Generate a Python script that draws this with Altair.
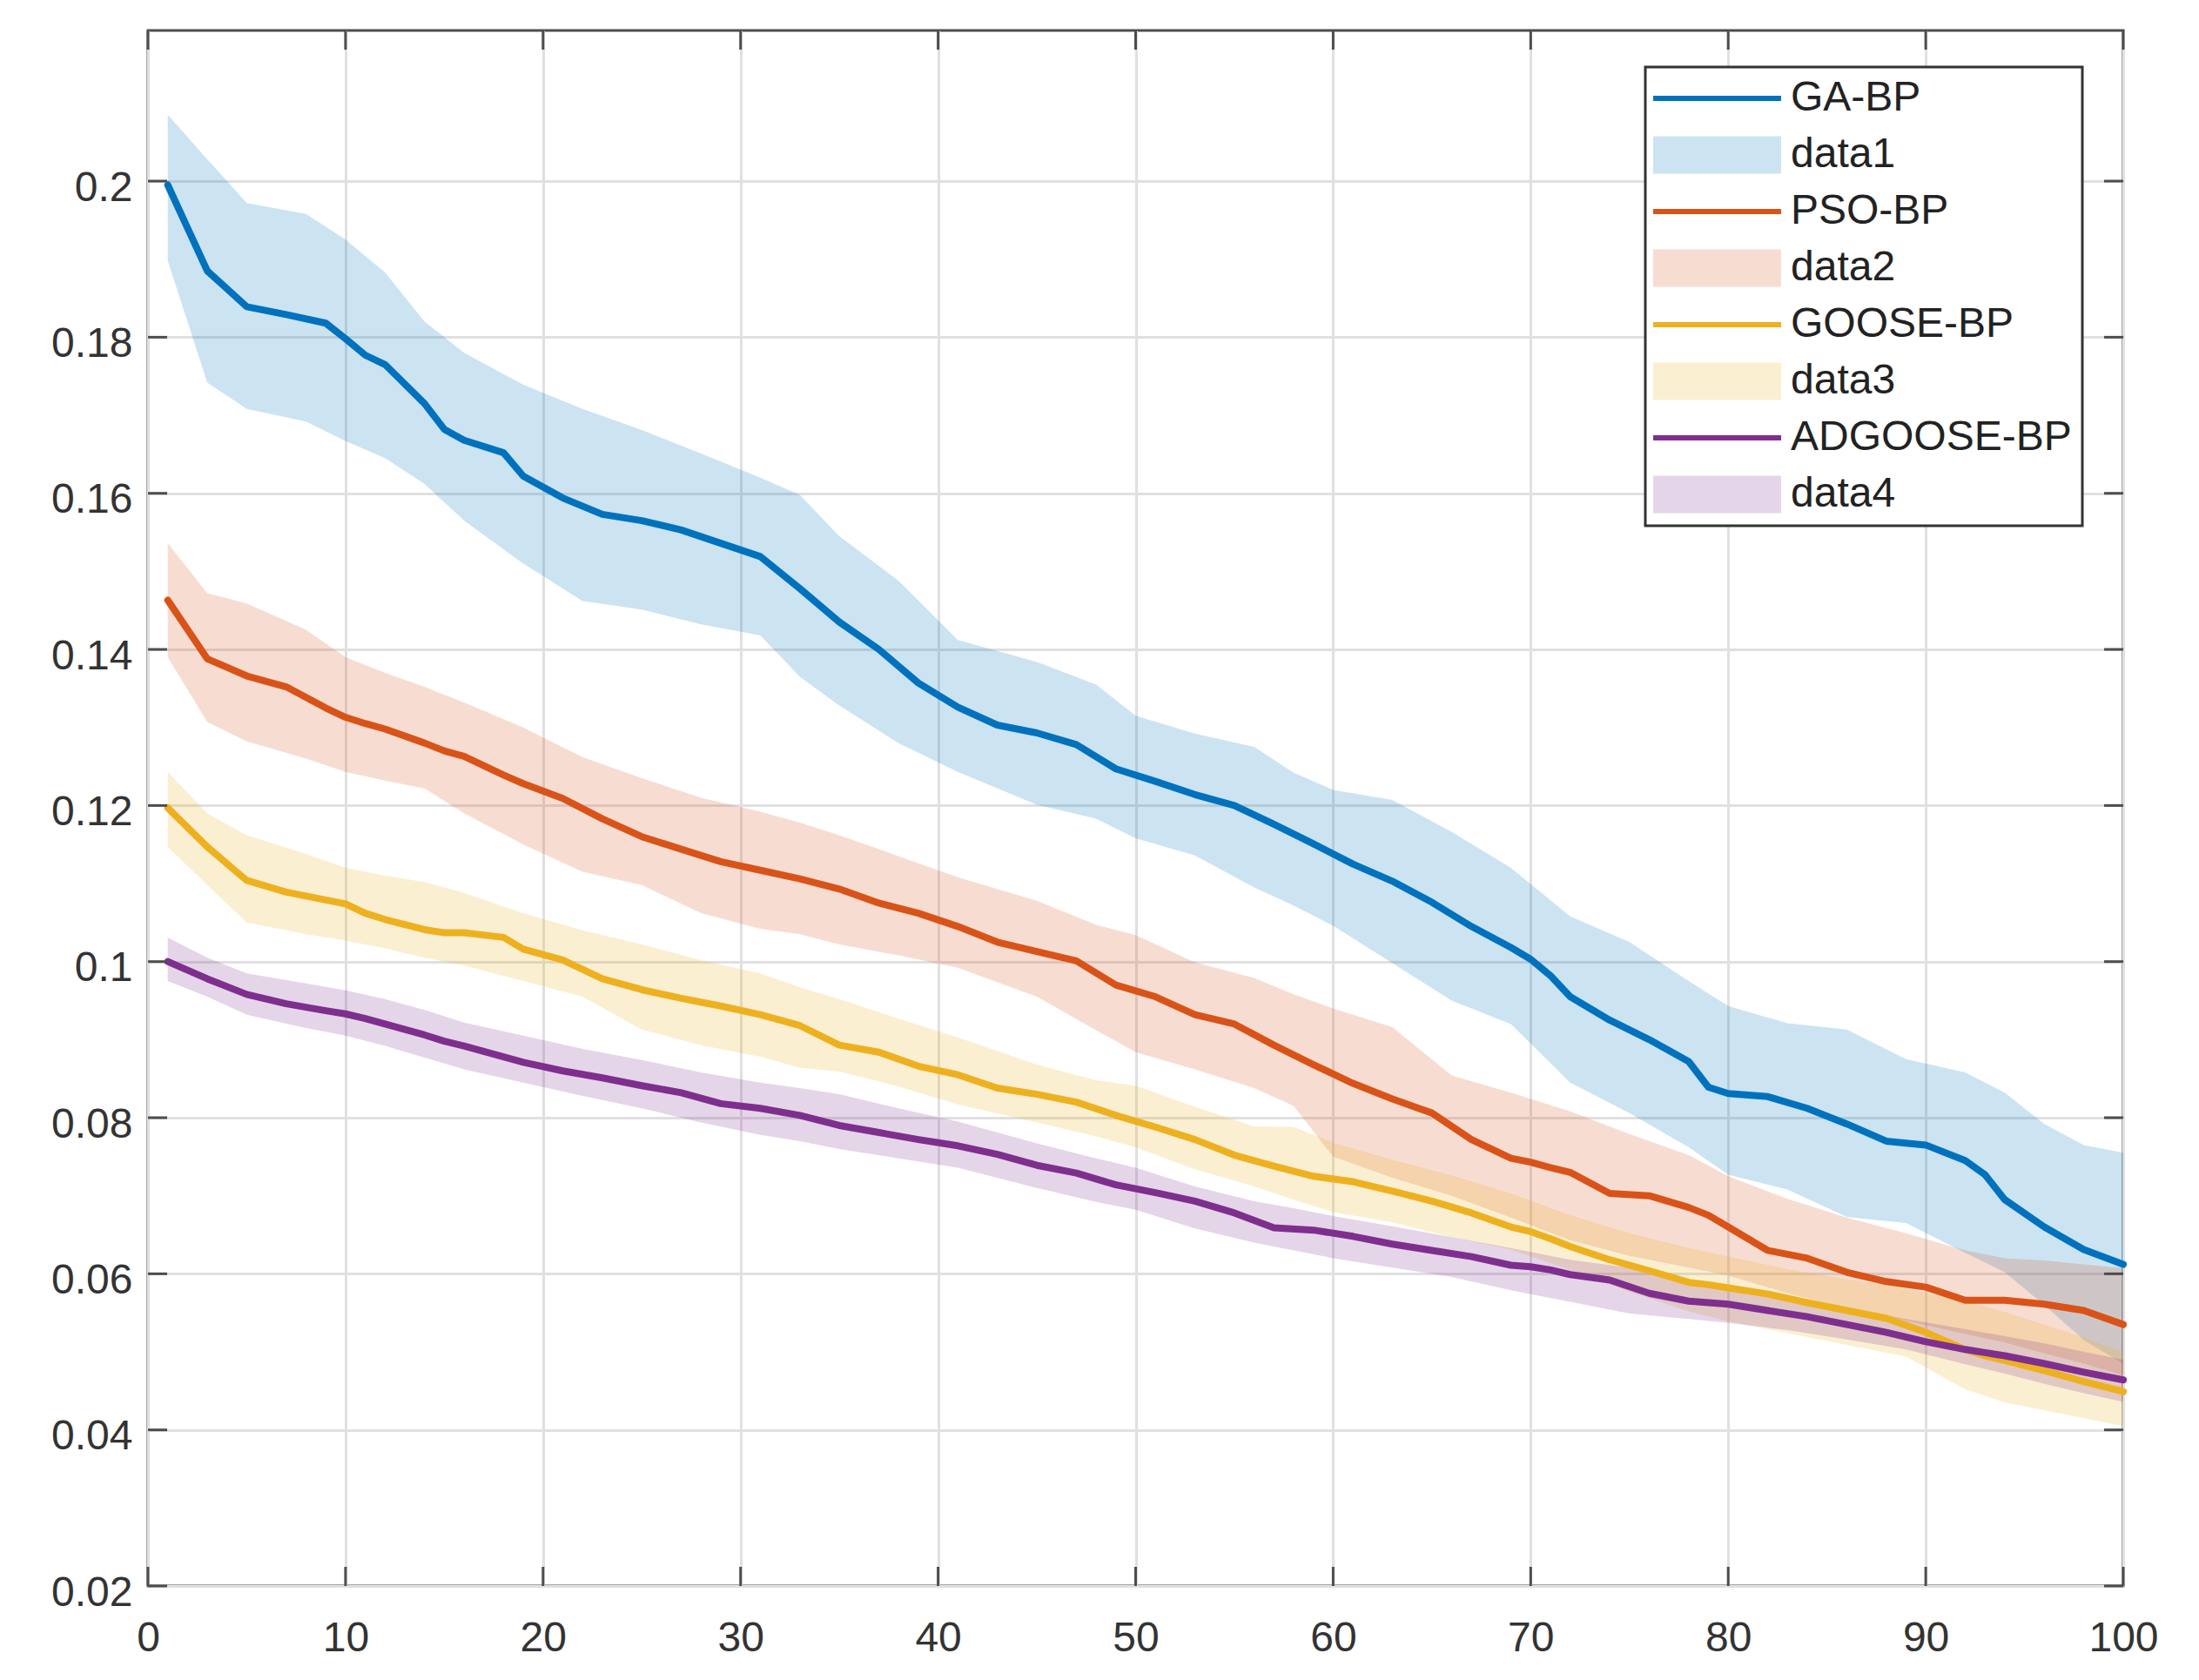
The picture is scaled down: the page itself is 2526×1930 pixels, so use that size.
import altair as alt
import pandas as pd

# ---------------- data ----------------
LX = [1, 3, 5, 7, 9, 10, 11, 12, 14, 15, 16, 18, 19, 21, 23, 25, 27, 29, 31, 33,
      35, 37, 39, 41, 43, 45, 47, 49, 51, 53, 55, 57, 59, 61, 63, 65, 67, 69, 70, 71,
      72, 74, 76, 78, 79, 80, 82, 84, 86, 88, 90, 92, 93, 94, 96, 98, 100]

GA_BP = [0.1995, 0.1885, 0.1839, 0.1829, 0.1818, 0.1798, 0.1777, 0.1765, 0.1715, 0.1682,
         0.1668, 0.1652, 0.1622, 0.1594, 0.1573, 0.1565, 0.1553, 0.1536, 0.1519, 0.1478,
         0.1435, 0.1400, 0.1357, 0.1326, 0.1303, 0.1293, 0.1278, 0.1247, 0.1231, 0.1214,
         0.1200, 0.1176, 0.1151, 0.1125, 0.1103, 0.1076, 0.1045, 0.1018, 0.1003, 0.0982,
         0.0955, 0.0925, 0.0900, 0.0872, 0.0839, 0.0831, 0.0827, 0.0812, 0.0792, 0.0770,
         0.0765, 0.0745, 0.0727, 0.0695, 0.0660, 0.0631, 0.0612]

PSO_BP = [0.1463, 0.1388, 0.1366, 0.1352, 0.1325, 0.1313, 0.1305, 0.1298, 0.1280, 0.1270,
          0.1263, 0.1239, 0.1228, 0.1209, 0.1183, 0.1160, 0.1144, 0.1128, 0.1117, 0.1106,
          0.1093, 0.1075, 0.1062, 0.1045, 0.1025, 0.1013, 0.1001, 0.0970, 0.0955, 0.0932,
          0.0920, 0.0893, 0.0868, 0.0844, 0.0824, 0.0806, 0.0772, 0.0748, 0.0743, 0.0736,
          0.0730, 0.0703, 0.0700, 0.0685, 0.0675, 0.0660, 0.0630, 0.0620, 0.0602, 0.0590,
          0.0583, 0.0566, 0.0566, 0.0566, 0.0561, 0.0553, 0.0535]

GOOSE_BP = [0.1197, 0.1147, 0.1104, 0.1089, 0.1079, 0.1074, 0.1062, 0.1054, 0.1041, 0.1037,
            0.1037, 0.1031, 0.1016, 0.1002, 0.0978, 0.0964, 0.0953, 0.0943, 0.0932, 0.0918,
            0.0893, 0.0884, 0.0866, 0.0855, 0.0838, 0.0830, 0.0820, 0.0803, 0.0788, 0.0772,
            0.0752, 0.0738, 0.0725, 0.0718, 0.0706, 0.0693, 0.0678, 0.0660, 0.0654, 0.0645,
            0.0635, 0.0618, 0.0604, 0.0589, 0.0586, 0.0582, 0.0574, 0.0563, 0.0553, 0.0543,
            0.0525, 0.0503, 0.0495, 0.0489, 0.0476, 0.0462, 0.0449]

ADGOOSE_BP = [0.1000, 0.0978, 0.0958, 0.0946, 0.0937, 0.0933, 0.0927, 0.0920, 0.0906, 0.0898,
              0.0892, 0.0878, 0.0871, 0.0860, 0.0851, 0.0841, 0.0832, 0.0818, 0.0812, 0.0803,
              0.0790, 0.0781, 0.0772, 0.0764, 0.0753, 0.0739, 0.0729, 0.0714, 0.0704, 0.0693,
              0.0678, 0.0659, 0.0656, 0.0648, 0.0638, 0.0630, 0.0622, 0.0611, 0.0609, 0.0605,
              0.0599, 0.0592, 0.0575, 0.0565, 0.0563, 0.0561, 0.0553, 0.0545, 0.0535, 0.0525,
              0.0513, 0.0503, 0.0499, 0.0495, 0.0485, 0.0474, 0.0464]

BX = [1, 3, 5, 8, 10, 12, 14, 16, 19, 22, 25, 28, 31, 33, 35, 38, 41, 45, 48, 50,
      53, 56, 58, 60, 63, 66, 69, 72, 75, 78, 80, 83, 86, 89, 92, 94, 96, 98, 100]

DATA1_HI = [0.2085, 0.2028, 0.1972, 0.1958, 0.1925, 0.1883, 0.1820, 0.1780, 0.1739, 0.1708,
            0.1681, 0.1651, 0.1620, 0.1598, 0.1545, 0.1488, 0.1412, 0.1384, 0.1355, 0.1315,
            0.1292, 0.1275, 0.1242, 0.1220, 0.1207, 0.1166, 0.1120, 0.1058, 0.1025, 0.0975,
            0.0943, 0.0921, 0.0913, 0.0875, 0.0858, 0.0832, 0.0792, 0.0765, 0.0755]
DATA1_LO = [0.1898, 0.1742, 0.1708, 0.1692, 0.1667, 0.1645, 0.1612, 0.1565, 0.1510, 0.1462,
            0.1451, 0.1432, 0.1418, 0.1365, 0.1328, 0.1280, 0.1243, 0.1201, 0.1183, 0.1158,
            0.1136, 0.1095, 0.1072, 0.1046, 0.0998, 0.0950, 0.0920, 0.0845, 0.0806, 0.0762,
            0.0727, 0.0708, 0.0673, 0.0665, 0.0627, 0.0602, 0.0560, 0.0515, 0.0485]

DATA2_HI = [0.1536, 0.1472, 0.1459, 0.1425, 0.1390, 0.1370, 0.1352, 0.1332, 0.1300, 0.1262,
            0.1235, 0.1210, 0.1192, 0.1178, 0.1162, 0.1135, 0.1108, 0.1078, 0.1047, 0.1034,
            0.0999, 0.0979, 0.0958, 0.0940, 0.0916, 0.0854, 0.0832, 0.0808, 0.0779, 0.0752,
            0.0725, 0.0696, 0.0672, 0.0652, 0.0630, 0.0620, 0.0617, 0.0612, 0.0607]
DATA2_LO = [0.1390, 0.1307, 0.1282, 0.1260, 0.1243, 0.1232, 0.1222, 0.1190, 0.1150, 0.1115,
            0.1098, 0.1062, 0.1042, 0.1035, 0.1022, 0.1008, 0.0992, 0.0955, 0.0912, 0.0884,
            0.0862, 0.0838, 0.0815, 0.0750, 0.0723, 0.0700, 0.0672, 0.0643, 0.0623, 0.0608,
            0.0598, 0.0575, 0.0556, 0.0540, 0.0523, 0.0512, 0.0498, 0.0485, 0.0470]

DATA3_HI = [0.1243, 0.1190, 0.1162, 0.1138, 0.1120, 0.1110, 0.1102, 0.1088, 0.1062, 0.1040,
            0.1022, 0.1002, 0.0985, 0.0967, 0.0952, 0.0927, 0.0903, 0.0868, 0.0848, 0.0841,
            0.0814, 0.0789, 0.0788, 0.0768, 0.0746, 0.0726, 0.0703, 0.0675, 0.0652, 0.0633,
            0.0622, 0.0606, 0.0593, 0.0581, 0.0565, 0.0551, 0.0535, 0.0518, 0.0500]
DATA3_LO = [0.1147, 0.1098, 0.1050, 0.1035, 0.1027, 0.1017, 0.1005, 0.0995, 0.0975, 0.0955,
            0.0913, 0.0893, 0.0878, 0.0864, 0.0859, 0.0840, 0.0817, 0.0794, 0.0776, 0.0762,
            0.0734, 0.0712, 0.0695, 0.0679, 0.0666, 0.0647, 0.0631, 0.0605, 0.0577, 0.0552,
            0.0539, 0.0524, 0.0509, 0.0494, 0.0452, 0.0435, 0.0425, 0.0415, 0.0405]

DATA4_HI = [0.1031, 0.1005, 0.0985, 0.0972, 0.0963, 0.0952, 0.0938, 0.0922, 0.0905, 0.0888,
            0.0874, 0.0858, 0.0845, 0.0838, 0.0830, 0.0812, 0.0795, 0.0767, 0.0748, 0.0736,
            0.0712, 0.0693, 0.0684, 0.0674, 0.0661, 0.0647, 0.0633, 0.0618, 0.0608, 0.0590,
            0.0580, 0.0570, 0.0556, 0.0542, 0.0529, 0.0520, 0.0511, 0.0500, 0.0490]
DATA4_LO = [0.0975, 0.0955, 0.0932, 0.0915, 0.0905, 0.0892, 0.0877, 0.0862, 0.0845, 0.0828,
            0.0812, 0.0794, 0.0778, 0.0770, 0.0760, 0.0748, 0.0736, 0.0710, 0.0692, 0.0682,
            0.0658, 0.0640, 0.0630, 0.0620, 0.0608, 0.0596, 0.0579, 0.0564, 0.0549, 0.0542,
            0.0537, 0.0528, 0.0516, 0.0503, 0.0484, 0.0472, 0.0459, 0.0447, 0.0436]

LEGEND_NAMES = ["GA-BP", "data1", "PSO-BP", "data2", "GOOSE-BP", "data3", "ADGOOSE-BP", "data4"]
LINE_COLORS = ["#0072BD", "#D95319", "#EDB120", "#7E2F8E"]
LEGEND_COLORS = ["#0072BD", "#CCE3F2", "#D95319", "#F7DDD1",
                 "#EDB120", "#FBEFD2", "#7E2F8E", "#E5D5E8"]

X_TICKS = [0, 10, 20, 30, 40, 50, 60, 70, 80, 90, 100]
Y_TICKS = [0.02, 0.04, 0.06, 0.08, 0.1, 0.12, 0.14, 0.16, 0.18, 0.2]

# ---------------- tables ----------------
line_series = [("GA-BP", GA_BP), ("PSO-BP", PSO_BP), ("GOOSE-BP", GOOSE_BP), ("ADGOOSE-BP", ADGOOSE_BP)]
rows = []
for (name, vals), col in zip(line_series, LINE_COLORS):
    for x, v in zip(LX, vals):
        rows.append({"x": x, "value": v, "series": name, "col": col})
line_df = pd.DataFrame(rows)

band_series = [("data1", DATA1_LO, DATA1_HI), ("data2", DATA2_LO, DATA2_HI),
               ("data3", DATA3_LO, DATA3_HI), ("data4", DATA4_LO, DATA4_HI)]
rows = []
for (name, lo, hi), col in zip(band_series, LINE_COLORS):
    for x, a, b in zip(BX, lo, hi):
        rows.append({"x": x, "lo": a, "hi": b, "band": name, "col": col})
band_df = pd.DataFrame(rows)

legend_df = pd.DataFrame({"series": LEGEND_NAMES,
                          "x": [LX[0]] * len(LEGEND_NAMES),
                          "y": [GA_BP[0]] * len(LEGEND_NAMES)})

# ---------------- style ----------------
W, H = 2269, 1787
FRAME = "#4d4d4d"
TXT = "#333333"
FONT = "Liberation Sans"
TICK_LEN = 22

xs = alt.Scale(domain=[0, 100], nice=False, zero=False)
ys = alt.Scale(domain=[0.02, 0.2193], nice=False, zero=False)

x_axis = alt.Axis(values=X_TICKS, title=None, grid=True, ticks=False, domain=False,
                  labelPadding=36, labelFontSize=48, labelFont=FONT, labelColor=TXT,
                  labelFlush=False, minExtent=80, maxExtent=80)
y_axis = alt.Axis(values=Y_TICKS, title=None, grid=True, ticks=False, domain=False,
                  format=".2~f", labelPadding=18, labelFontSize=48, labelFont=FONT,
                  labelColor=TXT, labelOffset=8, labelFlush=False,
                  minExtent=120, maxExtent=120)

LINE_PATH = "M-3.34,-0.14L3.34,-0.14L3.34,0.14L-3.34,0.14Z"
RECT_PATH = "M-3.34,-0.98L3.34,-0.98L3.34,0.98L-3.34,0.98Z"
SHAPES = [LINE_PATH, RECT_PATH] * 4

legend = alt.Legend(title=None, orient="none", legendX=1720, legendY=42,
                    labelFont=FONT, labelFontSize=48, labelColor="#222222",
                    symbolSize=44 * 44, symbolStrokeWidth=0, symbolOpacity=1,
                    symbolFillColor="black",
                    symbolOffset=46.5, labelOffset=60.5, rowPadding=17,
                    padding=12, fillColor="white", strokeColor="#333333",
                    labelLimit=600)

# ---------------- layers ----------------
areas = alt.Chart(band_df).mark_area(fillOpacity=0.2, strokeWidth=0).encode(
    x=alt.X("x:Q", scale=xs, axis=x_axis),
    y=alt.Y("lo:Q", scale=ys, axis=y_axis),
    y2="hi:Q",
    fill=alt.Fill("col:N", scale=None),
    detail="band:N",
)

lines = alt.Chart(line_df).mark_line(strokeWidth=8, strokeJoin="round", strokeCap="round").encode(
    x=alt.X("x:Q", scale=xs, axis=x_axis),
    y=alt.Y("value:Q", scale=ys, axis=y_axis),
    stroke=alt.Stroke("col:N", scale=None),
    detail="series:N",
)

ytick_df = pd.DataFrame({"v": Y_TICKS})
xtick_df = pd.DataFrame({"v": X_TICKS})

yt_left = alt.Chart(ytick_df).mark_rule(color=FRAME, strokeWidth=3).encode(
    y=alt.Y("v:Q", scale=ys, axis=y_axis), x=alt.value(0), x2=alt.value(TICK_LEN))
yt_right = alt.Chart(ytick_df).mark_rule(color=FRAME, strokeWidth=3).encode(
    y=alt.Y("v:Q", scale=ys, axis=y_axis), x=alt.value(W - TICK_LEN), x2=alt.value(W))
xt_bottom = alt.Chart(xtick_df).mark_rule(color=FRAME, strokeWidth=3).encode(
    x=alt.X("v:Q", scale=xs, axis=x_axis), y=alt.value(H - TICK_LEN), y2=alt.value(H))
xt_top = alt.Chart(xtick_df).mark_rule(color=FRAME, strokeWidth=3).encode(
    x=alt.X("v:Q", scale=xs, axis=x_axis), y=alt.value(0), y2=alt.value(TICK_LEN))

legend_layer = alt.Chart(legend_df).transform_filter("false").mark_point(
    filled=True, opacity=1).encode(
    x=alt.X("x:Q", scale=xs, axis=x_axis),
    y=alt.Y("y:Q", scale=ys, axis=y_axis),
    color=alt.Color("series:N", scale=alt.Scale(domain=LEGEND_NAMES, range=LEGEND_COLORS),
                    legend=legend),
    shape=alt.Shape("series:N", scale=alt.Scale(domain=LEGEND_NAMES, range=SHAPES),
                    legend=legend),
)

chart = alt.layer(areas, lines, yt_left, yt_right, xt_bottom, xt_top, legend_layer).properties(
    width=W, height=H,
    padding={"left": 42, "top": 25, "right": 5, "bottom": 0},
    background="white",
).configure_view(
    stroke=FRAME, strokeWidth=3
).configure_axis(
    gridColor="#e0e0e0", gridWidth=3, gridOpacity=1
).configure_legend(
    strokeWidth=3
)

chart.save("out.html", embed_options={"renderer": "svg", "actions": False})
